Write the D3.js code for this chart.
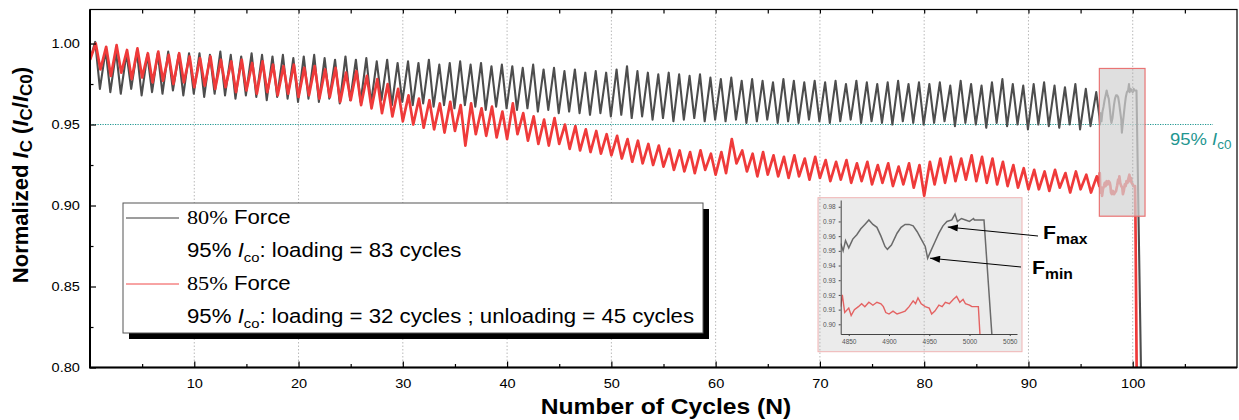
<!DOCTYPE html>
<html>
<head>
<meta charset="utf-8">
<script src="https://cdn.jsdelivr.net/npm/d3@7"></script>
<style>
  body { margin: 0; background: #fff; }
  svg { display: block; font-family: "Liberation Sans", Arial, sans-serif; }
</style>
</head>
<body>
<svg id="chart" width="1239" height="420"></svg>
<script>
// Normalized Ic vs number of cycles, 80% and 85% force, with zoomed inset

const SAMPLES_PER_CYCLE = 50;

// per-cycle maxima / minima (cycle n)
const blackStart = 0.990;
const blackPeak = [
  1.001, 0.996, 0.995, 0.994, 0.995, 0.993, 0.994, 0.995, 0.993, 0.994,
  0.994, 0.993, 0.995, 0.993, 0.992, 0.994, 0.993, 0.992, 0.993, 0.991,
  0.992, 0.993, 0.991, 0.990, 0.992, 0.990, 0.991, 0.989, 0.990, 0.988,
  0.989, 0.988, 0.990, 0.987, 0.988, 0.989, 0.987, 0.988, 0.986, 0.987,
  0.986, 0.985, 0.987, 0.984, 0.985, 0.983, 0.984, 0.982, 0.983, 0.982,
  0.984, 0.986, 0.983, 0.982, 0.981, 0.982, 0.981, 0.980, 0.981, 0.979,
  0.978, 0.979, 0.977, 0.978, 0.977, 0.976, 0.978, 0.977, 0.976, 0.977,
  0.976, 0.977, 0.975, 0.977, 0.976, 0.975, 0.976, 0.977, 0.975, 0.976,
  0.975, 0.976, 0.974, 0.977, 0.975, 0.974, 0.976, 0.978, 0.975, 0.974,
  0.975, 0.976, 0.974, 0.973, 0.975, 0.972, 0.970
];
const blackTrough = [
  0.972, 0.970, 0.969, 0.972, 0.968, 0.970, 0.969, 0.971, 0.968, 0.969,
  0.967, 0.969, 0.968, 0.966, 0.968, 0.967, 0.965, 0.967, 0.966, 0.964,
  0.966, 0.964, 0.966, 0.963, 0.965, 0.964, 0.963, 0.965, 0.962, 0.964,
  0.962, 0.963, 0.961, 0.962, 0.960, 0.962, 0.961, 0.959, 0.961, 0.960,
  0.959, 0.960, 0.958, 0.959, 0.957, 0.958, 0.957, 0.956, 0.957, 0.955,
  0.956, 0.954, 0.955, 0.953, 0.954, 0.952, 0.953, 0.954, 0.952, 0.953,
  0.952, 0.953, 0.951, 0.952, 0.953, 0.951, 0.952, 0.951, 0.953, 0.952,
  0.951, 0.952, 0.953, 0.951, 0.952, 0.951, 0.950, 0.952, 0.951, 0.950,
  0.951, 0.952, 0.949, 0.951, 0.950, 0.948, 0.951, 0.949, 0.950, 0.947,
  0.950, 0.949, 0.948, 0.950, 0.947, 0.949
];
const redStart = 0.990;
const redPeak = [
  1.000, 0.998, 0.999, 0.996, 0.997, 0.994, 0.995, 0.993, 0.994, 0.992,
  0.991, 0.992, 0.990, 0.989, 0.990, 0.988, 0.989, 0.987, 0.986, 0.987,
  0.985, 0.986, 0.984, 0.985, 0.982, 0.983, 0.980, 0.978, 0.975, 0.972,
  0.968, 0.966, 0.965, 0.963, 0.964, 0.962, 0.963, 0.960, 0.961, 0.958,
  0.963, 0.957, 0.955, 0.953, 0.954, 0.950, 0.949, 0.947, 0.946, 0.944,
  0.943, 0.941, 0.940, 0.938, 0.937, 0.935, 0.934, 0.933, 0.934, 0.932,
  0.933, 0.941, 0.934, 0.932, 0.933, 0.931, 0.930, 0.931, 0.929, 0.930,
  0.928, 0.927, 0.928, 0.926, 0.927, 0.925, 0.926, 0.924, 0.926, 0.925,
  0.927, 0.929, 0.930, 0.929, 0.931, 0.930, 0.929, 0.927, 0.925, 0.923,
  0.922, 0.921, 0.922, 0.920, 0.921, 0.919, 0.918
];
const redTrough = [
  0.984, 0.980, 0.982, 0.978, 0.979, 0.976, 0.977, 0.975, 0.976, 0.973,
  0.974, 0.972, 0.973, 0.970, 0.971, 0.969, 0.970, 0.968, 0.969, 0.967,
  0.968, 0.966, 0.967, 0.964, 0.965, 0.962, 0.960, 0.957, 0.955, 0.952,
  0.950, 0.948, 0.947, 0.945, 0.946, 0.937, 0.944, 0.943, 0.942, 0.941,
  0.944, 0.940, 0.938, 0.937, 0.938, 0.935, 0.934, 0.933, 0.932, 0.931,
  0.929, 0.927, 0.926, 0.925, 0.924, 0.922, 0.921, 0.920, 0.922, 0.919,
  0.920, 0.926, 0.921, 0.918, 0.919, 0.918, 0.917, 0.918, 0.916, 0.917,
  0.915, 0.916, 0.914, 0.915, 0.913, 0.914, 0.912, 0.913, 0.911, 0.906,
  0.913, 0.914, 0.915, 0.916, 0.915, 0.914, 0.913, 0.912, 0.911, 0.910,
  0.910, 0.909, 0.911, 0.908, 0.910, 0.908
];

// last cycles, by sample index
const blackEndIdx = [4840, 4843, 4846, 4850, 4855, 4860, 4865, 4870, 4875, 4880,
  4885, 4890, 4895, 4898, 4903, 4910, 4915, 4920, 4925, 4930, 4935, 4940, 4945,
  4948, 4952, 4957, 4962, 4967, 4972, 4978, 4982, 4985, 4990, 4995, 5000, 5005,
  5006, 5018, 5042];
const blackEndVal = [0.955, 0.950, 0.957, 0.952, 0.958, 0.961, 0.965, 0.968, 0.971, 0.968,
  0.966, 0.960, 0.953, 0.951, 0.954, 0.962, 0.966, 0.968, 0.968, 0.967, 0.963, 0.958, 0.953,
  0.945, 0.950, 0.956, 0.962, 0.967, 0.970, 0.971, 0.975, 0.970, 0.972, 0.971, 0.970, 0.972,
  0.971, 0.971, 0.78];
const redEndIdx = [4840, 4842, 4845, 4850, 4853, 4857, 4862, 4866, 4870, 4875,
  4880, 4885, 4890, 4893, 4896, 4900, 4905, 4910, 4915, 4920, 4925, 4930, 4933,
  4936, 4940, 4945, 4950, 4953, 4957, 4962, 4966, 4970, 4975, 4980, 4984, 4988,
  4992, 4995, 5000, 5003, 5008, 5011, 5013, 5020];
const redEndVal = [0.912, 0.920, 0.908, 0.911, 0.906, 0.910, 0.912, 0.914, 0.912, 0.915,
  0.913, 0.915, 0.914, 0.912, 0.908, 0.907, 0.909, 0.907, 0.908, 0.909, 0.912, 0.916, 0.914,
  0.918, 0.914, 0.912, 0.911, 0.907, 0.909, 0.913, 0.912, 0.915, 0.914, 0.917, 0.919, 0.915,
  0.917, 0.914, 0.913, 0.912, 0.912, 0.912, 0.893, 0.78];

const xMajor = [10, 20, 30, 40, 50, 60, 70, 80, 90, 100];
const xMinor = [5, 15, 25, 35, 45, 55, 65, 75, 85, 95, 105];
const yMajor = [0.80, 0.85, 0.90, 0.95, 1.00];
const yMinor = [0.825, 0.875, 0.925, 0.975];
const threshold = 0.95;
const thresholdEnd = 107.7;

const insetX = [4840, 5059];
const insetY = [0.8934, 0.9846];
const insetXTicks = [4850, 4900, 4950, 5000, 5050];
const insetYTicks = [0.90, 0.91, 0.92, 0.93, 0.94, 0.95, 0.96, 0.97, 0.98];
const fMax = [4973, 0.9662];
const fMin = [4951, 0.945];

// ---------------------------------------------------------------
const SX = 1.12; // the source figure is a little wider than tall
const M = { left: 90, right: 1237, top: 9.5, bottom: 367.5 };
const BLACK = "#4d4d4d", RED = "#ef3a3a", TEAL = "#1f9690";

const x = d3.scaleLinear().domain([0, 110]).range([M.left, M.right]);
const y = d3.scaleLinear().domain([0.8, 1.021]).range([M.bottom, M.top]);

const svg = d3.select("#chart");
const defs = svg.append("defs");
defs.append("clipPath").attr("id", "plot")
  .append("rect").attr("x", M.left).attr("y", M.top)
  .attr("width", M.right - M.left).attr("height", M.bottom - M.top);

function buildSeries(start, peaks, troughs, peakOff, troughOff, endIdx, endVal) {
  const pts = [[0, start]];
  peaks.forEach((p, n) => {
    pts.push([n + peakOff, p]);
    if (n < troughs.length) pts.push([n + troughOff, troughs[n]]);
  });
  endIdx.forEach((s, i) => pts.push([s / SAMPLES_PER_CYCLE, endVal[i]]));
  return pts;
}
const blackPts = buildSeries(blackStart, blackPeak, blackTrough, 0.5, 0.95, blackEndIdx, blackEndVal);
const redPts = buildSeries(redStart, redPeak, redTrough, 0.55, 1.0, redEndIdx, redEndVal);

function gridLines(g) {
  g.selectAll("line").data(xMajor).join("line")
    .attr("x1", d => x(d)).attr("x2", d => x(d))
    .attr("y1", M.top).attr("y2", M.bottom)
    .attr("stroke", "#b9b9b9").attr("stroke-width", 1)
    .attr("stroke-dasharray", "1.5,2");
}
gridLines(svg.append("g"));

// 95% line
svg.append("line")
  .attr("x1", x(0)).attr("x2", x(thresholdEnd))
  .attr("y1", y(threshold)).attr("y2", y(threshold))
  .attr("stroke", TEAL).attr("stroke-width", 1.1)
  .attr("stroke-dasharray", "1.2,1.3");

const line = d3.line().x(d => x(d[0])).y(d => y(d[1]));
const plot = svg.append("g").attr("clip-path", "url(#plot)");
plot.append("path").attr("d", line(blackPts))
  .attr("fill", "none").attr("stroke", BLACK).attr("stroke-width", 2.1).attr("stroke-linejoin", "round");
plot.append("path").attr("d", line(redPts))
  .attr("fill", "none").attr("stroke", RED).attr("stroke-width", 2.7).attr("stroke-linejoin", "round");

// highlighted window
const hx0 = x(insetX[0] / SAMPLES_PER_CYCLE), hx1 = x(insetX[1] / SAMPLES_PER_CYCLE);
svg.append("rect")
  .attr("x", hx0).attr("y", y(insetY[1]))
  .attr("width", hx1 - hx0).attr("height", y(insetY[0]) - y(insetY[1]))
  .attr("fill", "#d2d2d2").attr("fill-opacity", 0.72)
  .attr("stroke", "#e97474").attr("stroke-width", 1.2);
defs.append("clipPath").attr("id", "hbox")
  .append("rect").attr("x", hx0).attr("y", y(insetY[1]))
  .attr("width", hx1 - hx0).attr("height", y(insetY[0]) - y(insetY[1]));
gridLines(svg.append("g").attr("clip-path", "url(#hbox)"));

// threshold label
const tl = svg.append("text")
  .attr("transform", `translate(1170,145) scale(${SX},1)`)
  .attr("fill", TEAL).attr("font-size", 16.5);
tl.append("tspan").text("95% ");
tl.append("tspan").attr("font-style", "italic").text("I");
tl.append("tspan").attr("font-size", 12).attr("dy", 4).text("c0");

// axes
function styleAxis(g) {
  g.select(".domain").remove();
  g.selectAll(".tick line").attr("stroke", "#000").attr("stroke-width", 1.2);
}
const xAx = svg.append("g").attr("transform", `translate(0,${M.bottom})`)
  .call(d3.axisBottom(x).tickValues(xMajor).tickSize(-6).tickPadding(11).tickFormat(d3.format("d")));
styleAxis(xAx);
xAx.selectAll("text").attr("font-size", 13).attr("fill", "#000")
  .attr("font-family", "Liberation Sans, Arial").attr("transform", `scale(${SX},1)`);
styleAxis(svg.append("g").attr("transform", `translate(0,${M.bottom})`)
  .call(d3.axisBottom(x).tickValues(xMinor).tickSize(-3.5).tickFormat("")));
styleAxis(svg.append("g").attr("transform", `translate(0,${M.top})`)
  .call(d3.axisTop(x).tickValues(xMajor.concat(xMinor)).tickSize(-4).tickFormat("")));

const yAx = svg.append("g").attr("transform", `translate(${M.left},0)`)
  .call(d3.axisLeft(y).tickValues(yMajor).tickSize(-6).tickPadding(9).tickFormat(d3.format(".2f")));
styleAxis(yAx);
yAx.selectAll("text").attr("font-size", 13).attr("fill", "#000")
  .attr("font-family", "Liberation Sans, Arial").attr("transform", `scale(${SX},1)`);
styleAxis(svg.append("g").attr("transform", `translate(${M.left},0)`)
  .call(d3.axisLeft(y).tickValues(yMinor).tickSize(-3.5).tickFormat("")));

// frame
svg.append("rect").attr("x", M.left).attr("y", M.top)
  .attr("width", M.right - M.left).attr("height", M.bottom - M.top)
  .attr("fill", "none").attr("stroke", "#000").attr("stroke-width", 1.2);
svg.append("path")
  .attr("d", `M${M.left},${M.top}V${M.bottom}H${M.right}`)
  .attr("fill", "none").attr("stroke", "#000").attr("stroke-width", 2);

// axis titles
svg.append("text")
  .attr("transform", `translate(666,414) scale(${SX},1)`)
  .attr("text-anchor", "middle").attr("font-weight", "bold").attr("font-size", 22)
  .text("Number of Cycles (N)");
const yt = svg.append("text")
  .attr("transform", "translate(28,175) rotate(-90)")
  .attr("text-anchor", "middle").attr("font-weight", "bold").attr("font-size", 22);
yt.append("tspan").text("Normalized ");
yt.append("tspan").attr("font-style", "italic").text("I");
yt.append("tspan").attr("font-size", 17).attr("dy", 4).text("C");
yt.append("tspan").attr("dy", -4).text(" (");
yt.append("tspan").attr("font-style", "italic").text("I");
yt.append("tspan").attr("font-size", 17).attr("dy", 4).text("C");
yt.append("tspan").attr("dy", -4).text("/");
yt.append("tspan").attr("font-style", "italic").text("I");
yt.append("tspan").attr("font-size", 17).attr("dy", 4).text("C0");
yt.append("tspan").attr("dy", -4).text(")");

// legend
const LSX = 1.14;
const lg = svg.append("g");
lg.append("rect").attr("x", 129).attr("y", 209).attr("width", 580).attr("height", 130).attr("fill", "#000");
lg.append("rect").attr("x", 123).attr("y", 203).attr("width", 580).attr("height", 130)
  .attr("fill", "#fff").attr("stroke", "#555").attr("stroke-width", 1);
const legendRows = [
  { color: "#3a3a3a", force: "80%", note: "loading = 83 cycles" },
  { color: "#f04848", force: "85%", note: "loading = 32 cycles ; unloading = 45 cycles" }
];
legendRows.forEach((r, i) => {
  const base = 224 + i * 66;
  lg.append("line").attr("x1", 126).attr("x2", 179)
    .attr("y1", base - 6).attr("y2", base - 6)
    .attr("stroke", r.color).attr("stroke-width", 1);
  const t1 = lg.append("text").attr("transform", `translate(187,${base}) scale(${LSX},1)`).attr("font-size", 19.5);
  t1.append("tspan").style("font-family", "'Liberation Serif', 'Times New Roman', serif").text(r.force);
  t1.append("tspan").text(" Force");
  const t2 = lg.append("text").attr("transform", `translate(187,${base + 33}) scale(${LSX},1)`).attr("font-size", 19.5);
  t2.append("tspan").text("95% ");
  t2.append("tspan").attr("font-style", "italic").text("I");
  t2.append("tspan").attr("font-size", 13).attr("dy", 5).text("co");
  t2.append("tspan").attr("dy", -5).text(": " + r.note);
});

// inset
const ib = { x0: 818, y0: 197.7, x1: 1022, y1: 351.7 };
const ix = d3.scaleLinear().domain(insetX).range([840.7, 1017]);
const iy = d3.scaleLinear().domain(insetY).range([334, 200]);
svg.append("rect").attr("x", ib.x0).attr("y", ib.y0)
  .attr("width", ib.x1 - ib.x0).attr("height", ib.y1 - ib.y0)
  .attr("fill", "#ebebeb").attr("stroke", "#f1b4b4").attr("stroke-width", 1);
defs.append("clipPath").attr("id", "ibox")
  .append("rect").attr("x", ib.x0).attr("y", ib.y0)
  .attr("width", ib.x1 - ib.x0).attr("height", ib.y1 - ib.y0);
gridLines(svg.append("g").attr("clip-path", "url(#ibox)"));
defs.append("clipPath").attr("id", "iplot")
  .append("rect").attr("x", ix.range()[0]).attr("y", iy.range()[1])
  .attr("width", ix.range()[1] - ix.range()[0]).attr("height", iy.range()[0] - iy.range()[1]);

const iline = d3.line().x(d => ix(d[0])).y(d => iy(d[1]));
const ip = svg.append("g").attr("clip-path", "url(#iplot)");
ip.append("path").attr("d", iline(blackEndIdx.map((s, i) => [s, blackEndVal[i]])))
  .attr("fill", "none").attr("stroke", "#6a6a6a").attr("stroke-width", 1.5);
ip.append("path").attr("d", iline(redEndIdx.map((s, i) => [s, redEndVal[i]])))
  .attr("fill", "none").attr("stroke", "#e46262").attr("stroke-width", 1.4);

function styleInsetAxis(g) {
  g.select(".domain").attr("stroke", "#444").attr("stroke-width", 1);
  g.selectAll(".tick line").attr("stroke", "#444");
  g.selectAll("text").attr("font-size", 6.5).attr("fill", "#555")
    .attr("font-family", "Liberation Sans, Arial");
}
styleInsetAxis(svg.append("g").attr("transform", `translate(0,${iy.range()[0]})`)
  .call(d3.axisBottom(ix).tickValues(insetXTicks).tickSize(2).tickSizeOuter(0).tickPadding(3)
    .tickFormat(d3.format("d"))));
styleInsetAxis(svg.append("g").attr("transform", `translate(${ix.range()[0]},0)`)
  .call(d3.axisLeft(iy).tickValues(insetYTicks).tickSize(2).tickSizeOuter(0).tickPadding(3)
    .tickFormat(d3.format(".2f"))));

// F max / F min annotations
defs.append("marker").attr("id", "arrow")
  .attr("viewBox", "0 0 10 7").attr("refX", 10).attr("refY", 3.5)
  .attr("markerWidth", 11).attr("markerHeight", 7).attr("markerUnits", "userSpaceOnUse")
  .attr("orient", "auto")
  .append("path").attr("d", "M0,0L10,3.5L0,7z").attr("fill", "#000");
const notes = [
  { tip: fMax, tail: [1038, 236], lx: 1043, ly: 239, sub: "max" },
  { tip: fMin, tail: [1021, 267], lx: 1032, ly: 274, sub: "min" }
];
notes.forEach(n => {
  svg.append("line")
    .attr("x1", n.tail[0]).attr("y1", n.tail[1])
    .attr("x2", ix(n.tip[0])).attr("y2", iy(n.tip[1]))
    .attr("stroke", "#000").attr("stroke-width", 1)
    .attr("marker-end", "url(#arrow)");
  const t = svg.append("text").attr("transform", `translate(${n.lx},${n.ly}) scale(${SX},1)`)
    .attr("font-weight", "bold").attr("font-size", 19);
  t.append("tspan").text("F");
  t.append("tspan").attr("font-size", 14).attr("dy", 5).text(n.sub);
});
</script>
</body>
</html>
